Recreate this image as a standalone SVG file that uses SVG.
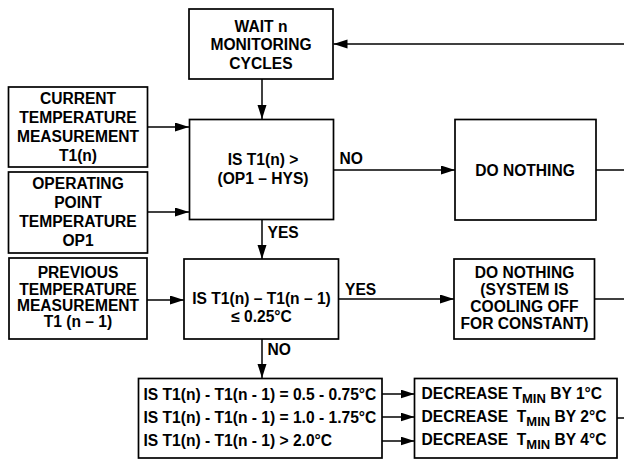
<svg xmlns="http://www.w3.org/2000/svg" width="624" height="459" viewBox="0 0 624 459">
<defs>
<marker id="ah" markerUnits="userSpaceOnUse" markerWidth="15" markerHeight="10" refX="14" refY="4.5" orient="auto">
<path d="M0,0 L14,4.5 L0,9 Z" fill="#000"/>
</marker>
<style>
rect{fill:#fff;stroke:#000;stroke-width:1.7}
text{font-family:"Liberation Sans",Arial,Helvetica,sans-serif;font-weight:bold;font-size:15.6px;fill:#000}
.c{text-anchor:middle}
.l{white-space:pre}
#connectors line{stroke:#000;stroke-width:1.5;fill:none}
.a{marker-end:url(#ah)}
</style>
</defs>
<rect x="0" y="0" width="624" height="459" style="fill:#fff;stroke:none"/>
<g id="connectors">
<line class="a" x1="624" y1="44" x2="333.5" y2="44"/>
<line class="a" x1="262" y1="79" x2="262" y2="119"/>
<line class="a" x1="147.5" y1="127" x2="189" y2="127"/>
<line class="a" x1="147.5" y1="212" x2="189" y2="212"/>
<line class="a" x1="333.5" y1="170" x2="455" y2="170"/>
<line x1="596" y1="170" x2="624" y2="170"/>
<line class="a" x1="262" y1="219.5" x2="262" y2="259"/>
<line class="a" x1="147" y1="300" x2="184" y2="300"/>
<line class="a" x1="338.5" y1="299" x2="454" y2="299"/>
<line x1="594.5" y1="299" x2="624" y2="299"/>
<line class="a" x1="262" y1="339" x2="262" y2="378"/>
<line class="a" x1="382" y1="394" x2="414.5" y2="394"/>
<line class="a" x1="382" y1="417" x2="414.5" y2="417"/>
<line class="a" x1="382" y1="441" x2="414.5" y2="441"/>
<line x1="617" y1="418" x2="624" y2="418"/>
<text x="339.5" y="164">NO</text>
<text x="267.5" y="237.5">YES</text>
<text x="345" y="294.5">YES</text>
<text x="267.5" y="354.5">NO</text>
</g>
<g id="wait">
<rect x="189" y="9" width="144" height="70"/>
<text class="c" x="261" y="31.5">WAIT n</text>
<text class="c" x="261" y="50">MONITORING</text>
<text class="c" x="261" y="68.5">CYCLES</text>
</g>
<g id="current">
<rect x="8.5" y="87" width="139" height="80"/>
<text class="c" x="78" y="104">CURRENT</text>
<text class="c" x="78" y="123">TEMPERATURE</text>
<text class="c" x="78" y="142">MEASUREMENT</text>
<text class="c" x="78" y="160.5">T1(n)</text>
</g>
<g id="operating">
<rect x="8.5" y="172" width="139" height="81"/>
<text class="c" x="78" y="189">OPERATING</text>
<text class="c" x="78" y="208">POINT</text>
<text class="c" x="78" y="227">TEMPERATURE</text>
<text class="c" x="78" y="246">OP1</text>
</g>
<g id="check1">
<rect x="189.5" y="119.5" width="144" height="100"/>
<text class="c" x="263" y="165">IS T1(n) &gt;</text>
<text class="c" x="263" y="184">(OP1 – HYS)</text>
</g>
<g id="nothing1">
<rect x="455" y="119.5" width="141" height="100.5"/>
<text class="c" x="525" y="175.5">DO NOTHING</text>
</g>
<g id="previous">
<rect x="9" y="258" width="138" height="81"/>
<text class="c" x="78" y="278">PREVIOUS</text>
<text class="c" x="78" y="294.5">TEMPERATURE</text>
<text class="c" x="78" y="311">MEASUREMENT</text>
<text class="c" x="78" y="327">T1 (n – 1)</text>
</g>
<g id="check2">
<rect x="184" y="259" width="154.5" height="80"/>
<text class="c" x="261.5" y="303.5">IS T1(n) – T1(n – 1)</text>
<text class="c" x="261.5" y="321.5">≤ 0.25°C</text>
</g>
<g id="nothing2">
<rect x="454" y="259" width="140.5" height="80"/>
<text class="c" x="524.5" y="278">DO NOTHING</text>
<text class="c" x="524.5" y="295">(SYSTEM IS</text>
<text class="c" x="524.5" y="312">COOLING OFF</text>
<text class="c" x="524.5" y="328.5">FOR CONSTANT)</text>
</g>
<g id="ranges">
<rect x="138.5" y="378.5" width="243.5" height="79.5"/>
<text x="143.5" y="399.5">IS T1(n) - T1(n - 1) = 0.5 - 0.75°C</text>
<text x="143.5" y="422.5">IS T1(n) - T1(n - 1) = 1.0 - 1.75°C</text>
<text x="143.5" y="445.5">IS T1(n) - T1(n - 1) &gt; 2.0°C</text>
</g>
<g id="decrease">
<rect x="414.5" y="378.5" width="202.5" height="79.5"/>
<text class="l" x="421.5" y="398.5">DECREASE T<tspan font-size="13" dy="4">MIN</tspan><tspan dy="-4"> BY 1°C</tspan></text>
<text class="l" x="421.5" y="421.5">DECREASE  T<tspan font-size="13" dy="4">MIN</tspan><tspan dy="-4"> BY 2°C</tspan></text>
<text class="l" x="421.5" y="445">DECREASE  T<tspan font-size="13" dy="4">MIN</tspan><tspan dy="-4"> BY 4°C</tspan></text>
</g>
</svg>
